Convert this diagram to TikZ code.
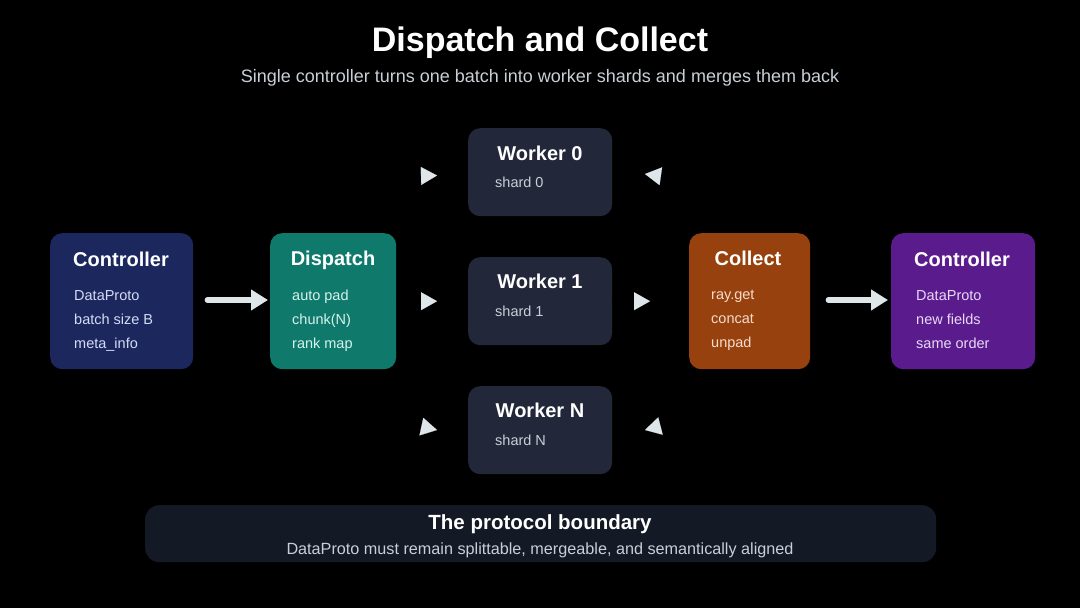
\documentclass[tikz,border=0pt]{standalone}
\usepackage{fontspec}
\setmainfont{Liberation Sans}
\usepackage{xcolor}
\usetikzlibrary{arrows.meta, positioning, calc}

\definecolor{ctrlblue}{HTML}{1C275E}
\definecolor{dispteal}{HTML}{0F7A6C}
\definecolor{workgray}{HTML}{22283A}
\definecolor{collorange}{HTML}{97410F}
\definecolor{ctrlpurple}{HTML}{5A1C8C}
\definecolor{boundbg}{HTML}{131A26}
\definecolor{arrowc}{HTML}{DFE6E9}
\definecolor{subtext}{HTML}{C9CFD8}
\definecolor{bluetext}{HTML}{D5DCF5}
\definecolor{tealtext}{HTML}{D6F2EC}
\definecolor{orangetext}{HTML}{F6DCCB}
\definecolor{purpletext}{HTML}{E9D8F8}

\tikzset{
  card/.style={rounded corners=12pt, inner sep=0pt, anchor=north west},
  cardtitle/.style={anchor=base, inner sep=0pt, text=white, font=\fontsize{20}{24}\bfseries\selectfont},
  cardbody/.style={anchor=north west, inner sep=0pt, align=left, font=\fontsize{14.5}{24}\selectfont},
  bigarrow/.style={line width=5.5pt, line cap=round, draw=arrowc,
    -{Triangle[length=17pt, width=20pt, color=arrowc]}},
  ghost/.style={draw=black, line width=0.1pt,
    -{Triangle[length=16pt, width=18pt, color=arrowc]}},
}

\begin{document}
\begin{tikzpicture}[x=1pt, y=-1pt]
    % fond
    \fill[black] (0,0) rectangle (1080,608);
    \useasboundingbox (0,0) rectangle (1080,608);

    % titre
    \node[anchor=base, inner sep=0pt, text=white, font=\fontsize{34}{40}\bfseries\selectfont] (title) at (540,51) {Dispatch and Collect};
    \node[anchor=base, inner sep=0pt, text=subtext, font=\fontsize{18}{21}\selectfont] (subtitle) at (540,82) {Single controller turns one batch into worker shards and merges them back};

    % boites
    \node[card, fill=ctrlblue, minimum width=143pt, minimum height=136pt] (ctrl) at (50,233) {};
    \node[card, fill=dispteal, minimum width=126pt, minimum height=136pt] (disp) at (270,233) {};
    \node[card, fill=workgray, minimum width=144pt, minimum height=88pt] (w0) at (468,128) {};
    \node[card, fill=workgray, minimum width=144pt, minimum height=88pt] (w1) at (468,257) {};
    \node[card, fill=workgray, minimum width=144pt, minimum height=88pt] (wN) at (468,386) {};
    \node[card, fill=collorange, minimum width=121pt, minimum height=136pt] (coll) at (689,233) {};
    \node[card, fill=ctrlpurple, minimum width=144pt, minimum height=136pt] (ctrlB) at (891,233) {};

    % textes des boites
    \node[cardtitle] (ctrlT) at (121,266) {Controller};
    \node[cardbody, text=bluetext] (ctrlL) at (74,290) {DataProto\\batch size B\\meta\_info};
    \node[cardtitle] (dispT) at (333,265) {Dispatch};
    \node[cardbody, text=tealtext] (dispL) at (292,290) {auto pad\\chunk(N)\\rank map};
    \node[cardtitle] (collT) at (748,265) {Collect};
    \node[cardbody, text=orangetext] (collL) at (711,290) {ray.get\\concat\\unpad};
    \node[cardtitle] (ctrlBT) at (962,266) {Controller};
    \node[cardbody, text=purpletext] (ctrlBL) at (916,290) {DataProto\\new fields\\same order};

    \node[cardtitle] (w0T) at (540,160) {Worker 0};
    \node[cardbody, text=subtext] (w0L) at (495,177) {shard 0};
    \node[cardtitle] (w1T) at (540,288) {Worker 1};
    \node[cardbody, text=subtext] (w1L) at (495,306) {shard 1};
    \node[cardtitle] (wNT) at (540,417) {Worker N};
    \node[cardbody, text=subtext] (wNL) at (495,435) {shard N};

    % fleches
    \draw[bigarrow, shorten <=14pt, shorten >=2pt] (ctrl.east |- 0,300) -- (disp.west |- 0,300);
    \draw[bigarrow, shorten <=18pt, shorten >=3pt] (coll.east |- 0,300) -- (ctrlB.west |- 0,300);

    \draw[ghost, shorten >=31pt] (disp.east |- w1.west) -- (w1.west);
    \draw[ghost, shorten >=39pt] (w1.east) -- (coll.west |- w1.east);

    \coordinate (g0a) at (400,176.5);
    \coordinate (g0b) at (437,175.5);
    \coordinate (g1a) at (680,179);
    \coordinate (g1b) at (645,174);
    \coordinate (g2a) at (400,422);
    \coordinate (g2b) at (437,430);
    \coordinate (g3a) at (680,421);
    \coordinate (g3b) at (645,430);
    \draw[ghost] (g0a) -- (g0b);
    \draw[ghost] (g1a) -- (g1b);
    \draw[ghost] (g2a) -- (g2b);
    \draw[ghost] (g3a) -- (g3b);

    % bas
    \node[card, fill=boundbg, rounded corners=14pt, minimum width=791pt, minimum height=57pt] (bound) at (145,505) {};
    \node[anchor=base, inner sep=0pt, text=white, font=\fontsize{20.5}{24}\bfseries\selectfont] (boundT) at (540,529) {The protocol boundary};
    \node[anchor=base, inner sep=0pt, text=subtext, font=\fontsize{16.2}{20}\selectfont] (boundL) at (540,554) {DataProto must remain splittable, mergeable, and semantically aligned};
\end{tikzpicture}
\end{document}
